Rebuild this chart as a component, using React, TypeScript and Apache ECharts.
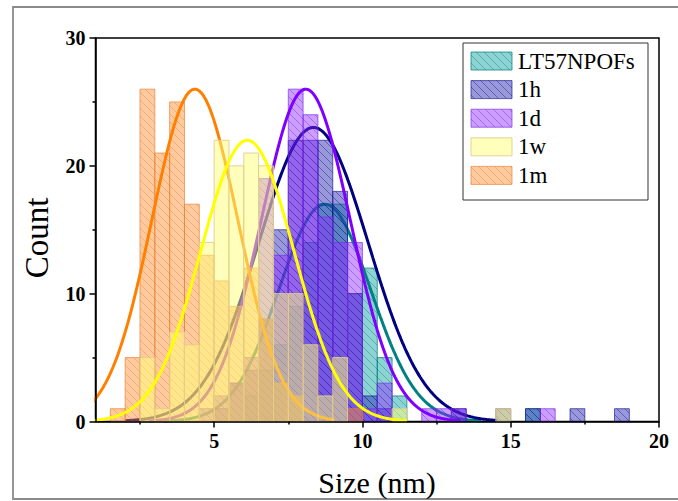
import React, { useEffect, useRef } from 'react';
import * as echarts from 'echarts';

// ---------- data ----------
const binWidth = 0.5; // nm
const seriesNames = ['LT57NPOFs', '1h', '1d', '1w', '1m'];

// histogram bin starts (nm) and counts
const lt57Bins = [6, 6.5, 7, 7.5, 8, 8.5, 9, 9.5, 10, 10.5, 11, 15.5];
const lt57Counts = [2, 4, 6, 9, 14, 17, 17, 10, 12, 5, 2, 1];

const h1Bins = [5, 5.5, 6, 6.5, 7, 7.5, 8, 8.5, 9, 9.5, 10, 10.5, 13, 14.5, 15.5, 17, 18.5];
const h1Counts = [1, 3, 4, 8, 15, 22, 22, 22, 18, 10, 2, 1, 1, 1, 1, 1, 1];

const d1Bins = [4.5, 5, 5.5, 6, 6.5, 7, 7.5, 8, 8.5, 9, 9.5, 10, 10.5, 12, 12.5, 13, 16];
const d1Counts = [1, 2, 3, 5, 19, 13, 26, 24, 16, 14, 14, 1, 3, 1, 1, 1, 1];

const w1Bins = [2.5, 3, 3.5, 4, 4.5, 5, 5.5, 6, 6.5, 7, 7.5, 8, 8.5, 9, 11, 14.5];
const w1Counts = [5, 1, 7, 6, 14, 22, 20, 21, 20, 10, 10, 6, 2, 5, 1, 1];

const m1Bins = [1.5, 2, 2.5, 3, 3.5, 4, 4.5, 5, 5.5, 6, 6.5, 7, 7.5, 9.5];
const m1Counts = [1, 5, 26, 21, 25, 17, 13, 11, 9, 12, 8, 3, 2, 1];

// Gaussian fit curves (centre, peak height, width sigma, drawn range)
const fitCenter = [8.73, 8.35, 8.09, 6.12, 4.35];
const fitPeak = [17, 23, 26, 22, 26];
const fitSigma = [1.55, 1.85, 1.5, 1.57, 1.45];
const fitFrom = [3.3, 2.0, 2.8, 0.5, 0.5];
const fitTo = [14.0, 14.55, 13.3, 11.5, 9.05];

const xMajorTicks = [5, 10, 15, 20];
const xMinorTicks = [2.5, 7.5, 12.5, 17.5];

// ---------- styles ----------
const lineColors = ['#008080', '#000080', '#8000ff', '#ffff00', '#ff8000'];
const fillColors = [
  'rgba(0,160,160,0.45)',
  'rgba(40,40,180,0.48)',
  'rgba(140,40,255,0.45)',
  'rgba(255,255,120,0.5)',
  'rgba(255,140,40,0.45)',
];
const hatchColors = [
  'rgba(0,100,100,0.35)',
  'rgba(0,0,110,0.38)',
  'rgba(90,0,200,0.32)',
  null,
  'rgba(215,110,40,0.32)',
];
const borderColors = [
  'rgba(0,120,120,0.7)',
  'rgba(20,20,140,0.65)',
  'rgba(120,40,230,0.65)',
  'rgba(225,205,140,0.9)',
  'rgba(235,130,50,0.7)',
];
// stacking order (higher drawn later)
const drawRank = [0, 1, 2, 4, 3];
const FONT = '"Liberation Serif", "Times New Roman", serif';

function makePattern(fill: string, hatch: string | null) {
  const s = 8;
  const c = document.createElement('canvas');
  c.width = s;
  c.height = s;
  const ctx = c.getContext('2d') as CanvasRenderingContext2D;
  ctx.fillStyle = fill;
  ctx.fillRect(0, 0, s, s);
  if (hatch) {
    ctx.strokeStyle = hatch;
    ctx.lineWidth = 1;
    ctx.beginPath();
    ctx.moveTo(-1, -1);
    ctx.lineTo(s + 1, s + 1);
    ctx.stroke();
  }
  return { image: c, repeat: 'repeat' };
}

export default function App() {
  const ref = useRef<HTMLDivElement>(null);

  useEffect(() => {
    if (!ref.current) return;
    const chart = echarts.init(ref.current, null, { renderer: 'svg' });
    const patterns = fillColors.map((f, i) => makePattern(f, hatchColors[i]));
    const binSets = [lt57Bins, h1Bins, d1Bins, w1Bins, m1Bins];
    const countSets = [lt57Counts, h1Counts, d1Counts, w1Counts, m1Counts];

    const series: any[] = [];
    seriesNames.forEach((name, i) => {
      const rank = drawRank[i];
      const pattern = patterns[i];
      const border = borderColors[i];
      series.push({
        type: 'custom',
        name,
        xAxisIndex: 0,
        yAxisIndex: 0,
        z: 10 + rank * 2,
        silent: true,
        data: binSets[i].map((b, j) => [b, b + binWidth, countSets[i][j]]),
        encode: { x: [0, 1], y: 2 },
        renderItem: (params: any, api: any) => {
          const p0 = api.coord([api.value(0), api.value(2)]);
          const p1 = api.coord([api.value(1), 0]);
          return {
            type: 'rect',
            shape: { x: p0[0], y: p0[1], width: p1[0] - p0[0], height: p1[1] - p0[1] },
            style: { fill: pattern, stroke: border, lineWidth: 1 },
          };
        },
      });
      const pts: number[][] = [];
      for (let x = fitFrom[i]; x <= fitTo[i] + 1e-9; x += 0.05) {
        const d = x - fitCenter[i];
        pts.push([x, fitPeak[i] * Math.exp(-(d * d) / (2 * fitSigma[i] * fitSigma[i]))]);
      }
      series.push({
        type: 'line',
        name: name + ' fit',
        xAxisIndex: 0,
        yAxisIndex: 0,
        z: 11 + rank * 2,
        silent: true,
        showSymbol: false,
        symbol: 'none',
        clip: true,
        data: pts,
        lineStyle: { color: lineColors[i], width: 3 },
      });
    });

    const legendGraphics: any[] = [
      {
        type: 'rect',
        shape: { x: 463, y: 43, width: 185, height: 157 },
        style: { fill: '#fff', stroke: '#333', lineWidth: 1 },
        z: 100,
      },
    ];
    seriesNames.forEach((name, i) => {
      const y = 52 + i * 28.6;
      legendGraphics.push({
        type: 'rect',
        shape: { x: 471, y, width: 41, height: 18 },
        style: { fill: patterns[i], stroke: borderColors[i], lineWidth: 1 },
        z: 101,
      });
      legendGraphics.push({
        type: 'text',
        x: 518,
        y: y + 9,
        style: {
          text: name,
          font: `23px ${FONT}`,
          fill: '#000',
          textAlign: 'left',
          textVerticalAlign: 'middle',
        },
        z: 101,
      });
    });

    const option: any = {
      animation: false,
      backgroundColor: '#fff',
      grid: [
        { left: 95.5, right: 19, top: 38, bottom: 79.5, show: true, borderColor: '#000', borderWidth: 1.5, backgroundColor: 'transparent' },
        { left: 95.5, right: 19, top: 38, bottom: 79.5, show: false },
      ],
      xAxis: [
        {
          type: 'value',
          gridIndex: 0,
          min: 1,
          max: 20,
          z: 50,
          axisLine: { show: true, lineStyle: { color: '#000', width: 1.5 } },
          axisTick: { show: true, length: 6, customValues: xMajorTicks, lineStyle: { color: '#000', width: 1.5 } },
          axisLabel: {
            customValues: xMajorTicks,
            color: '#000',
            fontFamily: FONT,
            fontWeight: 'bold',
            fontSize: 20,
            margin: 9,
          },
          splitLine: { show: false },
        },
        {
          type: 'value',
          gridIndex: 1,
          min: 1,
          max: 20,
          z: 50,
          axisLine: { show: false },
          axisTick: { show: true, length: 3, customValues: xMinorTicks, lineStyle: { color: '#000', width: 1.5 } },
          axisLabel: { show: false, customValues: xMinorTicks },
          splitLine: { show: false },
        },
      ],
      yAxis: [
        {
          type: 'value',
          gridIndex: 0,
          min: 0,
          max: 30,
          interval: 10,
          z: 50,
          axisLine: { show: true, lineStyle: { color: '#000', width: 1.5 } },
          axisTick: { show: true, length: 6, lineStyle: { color: '#000', width: 1.5 } },
          minorTick: { show: true, splitNumber: 2, length: 3, lineStyle: { color: '#000', width: 1.5 } },
          axisLabel: {
            color: '#000',
            fontFamily: FONT,
            fontWeight: 'bold',
            fontSize: 20,
            margin: 10,
          },
          splitLine: { show: false },
          minorSplitLine: { show: false },
        },
        { type: 'value', gridIndex: 1, min: 0, max: 30, show: false },
      ],
      series,
      graphic: [
        {
          type: 'rect',
          shape: { x: 13, y: 7, width: 700, height: 492 },
          style: { fill: 'none', stroke: '#8a8a8a', lineWidth: 1.8 },
          z: -10,
          silent: true,
        },
        {
          type: 'text',
          x: 37,
          y: 238,
          rotation: Math.PI / 2,
          style: {
            text: 'Count',
            font: `33px ${FONT}`,
            fill: '#000',
            textAlign: 'center',
            textVerticalAlign: 'middle',
          },
        },
        {
          type: 'text',
          x: 377,
          y: 482,
          style: {
            text: 'Size (nm)',
            font: `30px ${FONT}`,
            fill: '#000',
            textAlign: 'center',
            textVerticalAlign: 'middle',
          },
        },
        ...legendGraphics,
      ],
    };

    chart.setOption(option);
    return () => chart.dispose();
  }, []);

  return (
    <div
      ref={ref}
      style={{ position: 'fixed', left: 0, top: 0, width: 678, height: 501, background: '#fff' }}
    />
  );
}
